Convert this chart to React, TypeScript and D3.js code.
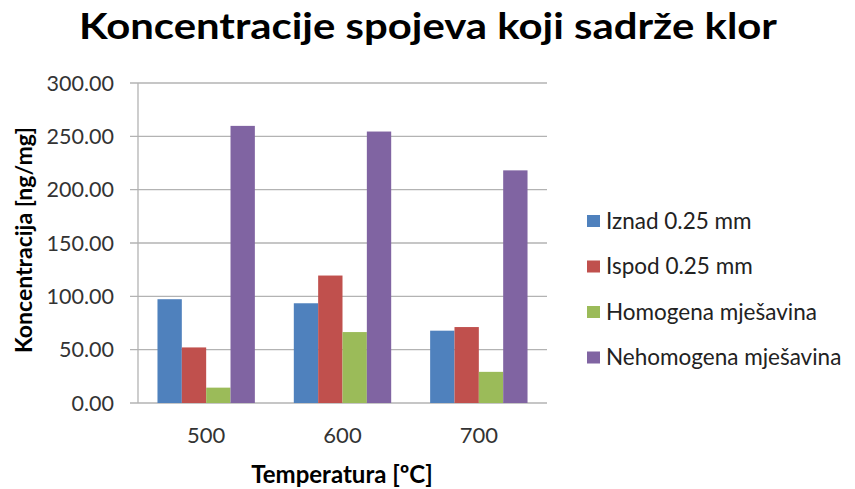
import { useEffect, useRef } from "react";
import * as d3 from "d3";

const temperatures = ["500", "600", "700"];
const seriesNames = ["Iznad 0.25 mm", "Ispod 0.25 mm", "Homogena mješavina", "Nehomogena mješavina"];
const iznad = [97.3, 93.5, 67.8];
const ispod = [52.1, 119.5, 71.2];
const homogena = [14.4, 66.5, 29.2];
const nehomogena = [259.8, 254.5, 218.1];
const seriesColors = ["#4F81BD", "#C0504D", "#9BBB59", "#8064A2"];
const yTicks = [0, 50, 100, 150, 200, 250, 300];

const FONT = "Lato, 'Open Sans', sans-serif";

export default function App() {
  const ref = useRef<SVGSVGElement>(null);

  useEffect(() => {
    const svg = d3.select(ref.current);
    svg.selectAll("*").remove();

    const left = 138, right = 547, top = 83, bottom = 403;
    const values = [iznad, ispod, homogena, nehomogena];

    const x = d3.scaleBand().domain(temperatures).range([left, right]);
    const inner = d3.scaleBand().domain(seriesNames)
      .range([0, x.bandwidth()]).paddingOuter(0.8).paddingInner(0);
    const y = d3.scaleLinear().domain([0, 300]).range([bottom, top]);

    // title
    svg.append("text")
      .attr("x", 428).attr("y", 39)
      .attr("text-anchor", "middle")
      .attr("textLength", 698).attr("lengthAdjust", "spacingAndGlyphs")
      .style("font-family", FONT).style("font-weight", "bold").style("font-size", "36px")
      .text("Koncentracije spojeva koji sadrže klor");

    // gridlines
    svg.append("g").selectAll("line").data(yTicks).join("line")
      .attr("x1", left - 8).attr("x2", right)
      .attr("y1", d => y(d)).attr("y2", d => y(d))
      .attr("stroke", "#b3b3b3").attr("stroke-width", 1.3);

    // y axis line
    svg.append("line")
      .attr("x1", left).attr("x2", left).attr("y1", top).attr("y2", bottom)
      .attr("stroke", "#b3b3b3").attr("stroke-width", 1.3);

    // y tick labels
    svg.append("g").selectAll("text").data(yTicks).join("text")
      .attr("x", 114).attr("y", d => y(d))
      .attr("dy", "0.35em").attr("text-anchor", "end")
      .attr("fill", "#333")
      .style("font-family", FONT).style("font-size", "21.5px")
      .text(d => d3.format(".2f")(d));

    // bars
    const groups = svg.append("g").selectAll("g").data(seriesNames).join("g")
      .attr("fill", (_, i) => seriesColors[i]);
    groups.selectAll("rect")
      .data((_, i) => values[i].map((v, j) => ({ v, t: temperatures[j], s: seriesNames[i] })))
      .join("rect")
      .attr("x", d => (x(d.t) as number) + (inner(d.s) as number))
      .attr("width", inner.bandwidth())
      .attr("y", d => y(d.v))
      .attr("height", d => bottom - y(d.v));

    // x tick labels
    svg.append("g").selectAll("text").data(temperatures).join("text")
      .attr("x", d => (x(d) as number) + x.bandwidth() / 2)
      .attr("y", 435).attr("dy", "0.35em")
      .attr("text-anchor", "middle").attr("fill", "#333")
      .style("font-family", FONT).style("font-size", "22px")
      .text(d => d);

    // axis titles
    svg.append("text")
      .attr("x", 342).attr("y", 475).attr("dy", "0.35em")
      .attr("text-anchor", "middle")
      .style("font-family", FONT).style("font-weight", "bold").style("font-size", "24px")
      .text("Temperatura [ºC]");

    svg.append("g")
      .attr("transform", `translate(24, 240)`)
      .append("text")
      .attr("transform", "rotate(-90)")
      .attr("dy", "0.35em")
      .attr("text-anchor", "middle")
      .style("font-family", FONT).style("font-weight", "bold").style("font-size", "23px")
      .text("Koncentracija [ng/mg]");

    // legend
    const legend = svg.append("g").selectAll("g").data(seriesNames).join("g")
      .attr("transform", (_, i) => `translate(587, ${221 + i * 45.5})`);
    legend.append("rect")
      .attr("x", 0).attr("y", -6).attr("width", 13).attr("height", 12)
      .attr("fill", (_, i) => seriesColors[i]);
    legend.append("text")
      .attr("x", 19).attr("dy", "0.35em").attr("fill", "#222")
      .style("font-family", FONT).style("font-size", "22.5px")
      .text(d => d);
  }, []);

  return (
    <svg ref={ref} width={855} height={489}
      style={{ position: "absolute", left: 0, top: 0, background: "#fff" }}></svg>
  );
}
